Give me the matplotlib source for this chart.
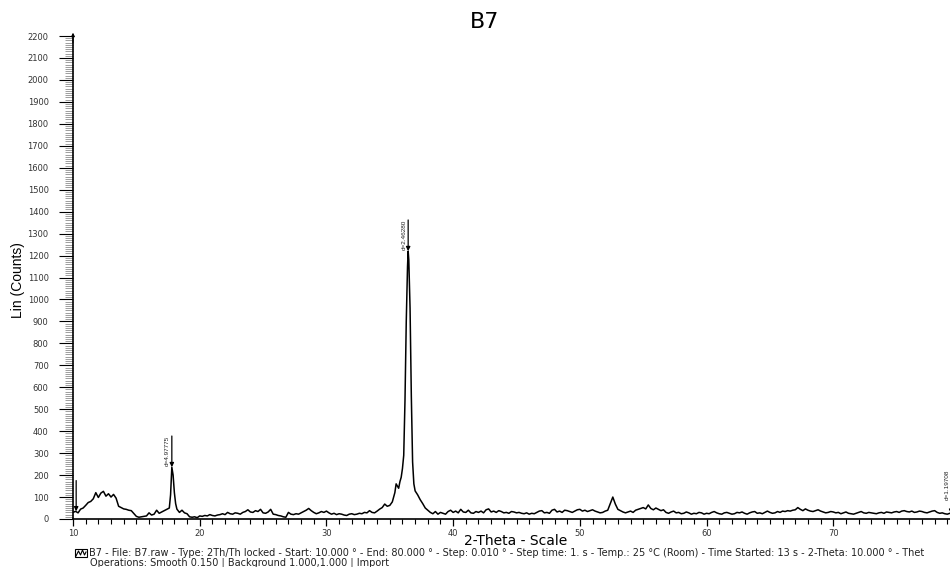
import matplotlib
matplotlib.use("Agg")
from matplotlib import pyplot as plt
from matplotlib.ticker import MultipleLocator, FuncFormatter
from matplotlib.patches import Rectangle

# scan B7, 2-theta in degrees and intensity in counts
two_theta = [
    10.0, 10.2, 10.4, 10.6, 10.8, 11.0, 11.2, 11.4, 11.6, 11.8, 12.0, 12.2, 12.4, 12.6, 12.8,
    13.0, 13.2, 13.4, 13.6, 13.8, 14.0, 14.2, 14.4, 14.6, 14.8, 15.0, 15.2, 15.4, 15.6, 15.8,
    16.0, 16.2, 16.4, 16.6, 16.8, 17.0, 17.2, 17.4, 17.6, 17.7, 17.8, 17.9, 18.0, 18.1, 18.2,
    18.4, 18.6, 18.8, 19.0, 19.2, 19.4, 19.6, 19.8, 20.0, 20.2, 20.4, 20.6, 20.8, 21.0, 21.2,
    21.4, 21.6, 21.8, 22.0, 22.2, 22.4, 22.6, 22.8, 23.0, 23.2, 23.4, 23.6, 23.8, 24.0, 24.2,
    24.4, 24.6, 24.8, 25.0, 25.2, 25.4, 25.6, 25.8, 26.0, 26.2, 26.4, 26.6, 26.8, 27.0, 27.2,
    27.4, 27.6, 27.8, 28.0, 28.2, 28.4, 28.6, 28.8, 29.0, 29.2, 29.4, 29.6, 29.8, 30.0, 30.2,
    30.4, 30.6, 30.8, 31.0, 31.2, 31.4, 31.6, 31.8, 32.0, 32.2, 32.4, 32.6, 32.8, 33.0, 33.2,
    33.4, 33.6, 33.8, 34.0, 34.2, 34.4, 34.6, 34.8, 35.0, 35.2, 35.4, 35.5, 35.6, 35.7, 35.8,
    35.9, 36.0, 36.1, 36.2, 36.3, 36.4, 36.45, 36.5, 36.6, 36.7, 36.8, 36.9, 37.0, 37.2, 37.4,
    37.6, 37.8, 38.0, 38.2, 38.4, 38.6, 38.8, 39.0, 39.2, 39.4, 39.6, 39.8, 40.0, 40.2, 40.4,
    40.6, 40.8, 41.0, 41.2, 41.4, 41.6, 41.8, 42.0, 42.2, 42.4, 42.6, 42.8, 43.0, 43.2, 43.4,
    43.6, 43.8, 44.0, 44.2, 44.4, 44.6, 44.8, 45.0, 45.2, 45.4, 45.6, 45.8, 46.0, 46.2, 46.4,
    46.6, 46.8, 47.0, 47.2, 47.4, 47.6, 47.8, 48.0, 48.2, 48.4, 48.6, 48.8, 49.0, 49.2, 49.4,
    49.6, 49.8, 50.0, 50.2, 50.4, 50.6, 50.8, 51.0, 51.2, 51.4, 51.6, 51.8, 52.0, 52.2, 52.4,
    52.6, 52.8, 53.0, 53.2, 53.4, 53.6, 53.8, 54.0, 54.2, 54.4, 54.6, 54.8, 55.0, 55.2, 55.4,
    55.6, 55.8, 56.0, 56.2, 56.4, 56.6, 56.8, 57.0, 57.2, 57.4, 57.6, 57.8, 58.0, 58.2, 58.4,
    58.6, 58.8, 59.0, 59.2, 59.4, 59.6, 59.8, 60.0, 60.2, 60.4, 60.6, 60.8, 61.0, 61.2, 61.4,
    61.6, 61.8, 62.0, 62.2, 62.4, 62.6, 62.8, 63.0, 63.2, 63.4, 63.6, 63.8, 64.0, 64.2, 64.4,
    64.6, 64.8, 65.0, 65.2, 65.4, 65.6, 65.8, 66.0, 66.2, 66.4, 66.6, 66.8, 67.0, 67.2, 67.4,
    67.6, 67.8, 68.0, 68.2, 68.4, 68.6, 68.8, 69.0, 69.2, 69.4, 69.6, 69.8, 70.0, 70.2, 70.4,
    70.6, 70.8, 71.0, 71.2, 71.4, 71.6, 71.8, 72.0, 72.2, 72.4, 72.6, 72.8, 73.0, 73.2, 73.4,
    73.6, 73.8, 74.0, 74.2, 74.4, 74.6, 74.8, 75.0, 75.2, 75.4, 75.6, 75.8, 76.0, 76.2, 76.4,
    76.6, 76.8, 77.0, 77.2, 77.4, 77.6, 77.8, 78.0, 78.2, 78.4, 78.6, 78.8, 79.0, 79.2, 79.4,
    79.6, 79.8, 80.0,
]
counts = [
    30, 35, 28, 45, 50, 62, 75, 80, 92, 120, 98, 118, 126, 104, 115,
    100, 112, 95, 58, 52, 46, 44, 40, 38, 25, 12, 8, 10, 12, 14,
    28, 18, 22, 40, 26, 32, 38, 44, 50, 110, 236, 200, 120, 70, 45,
    30, 40, 28, 24, 10, 8, 10, 6, 14, 12, 16, 14, 20, 16, 14,
    18, 20, 24, 20, 30, 24, 22, 28, 26, 22, 30, 34, 42, 32, 30,
    38, 34, 44, 28, 26, 32, 44, 22, 20, 16, 14, 10, 8, 30, 22,
    20, 24, 22, 28, 34, 40, 48, 38, 30, 24, 28, 34, 30, 36, 28,
    22, 26, 20, 24, 22, 18, 16, 22, 24, 20, 22, 26, 24, 30, 28,
    38, 30, 28, 36, 45, 52, 68, 58, 62, 78, 120, 160, 150, 140, 170,
    190, 230, 290, 540, 900, 1150, 1220, 1180, 960, 560, 260, 160, 128, 110, 88,
    70, 50, 40, 30, 24, 34, 22, 30, 26, 22, 34, 40, 30, 36, 28,
    44, 32, 30, 40, 28, 26, 34, 30, 36, 28, 42, 46, 32, 36, 30,
    38, 34, 28, 30, 26, 34, 32, 28, 30, 26, 24, 28, 22, 26, 24,
    30, 36, 38, 28, 30, 26, 40, 44, 32, 36, 30, 40, 38, 34, 30,
    36, 42, 44, 36, 40, 34, 38, 42, 36, 32, 28, 30, 36, 40, 70,
    100, 68, 44, 38, 32, 28, 32, 36, 30, 40, 44, 48, 52, 46, 64,
    48, 42, 50, 44, 38, 42, 30, 26, 32, 36, 28, 30, 24, 26, 32,
    28, 22, 26, 24, 30, 28, 22, 26, 24, 30, 34, 28, 24, 22, 28,
    30, 26, 22, 24, 30, 28, 32, 26, 22, 28, 32, 34, 26, 28, 24,
    30, 36, 30, 26, 28, 34, 30, 36, 34, 38, 36, 40, 42, 52, 44,
    38, 46, 40, 36, 34, 38, 42, 36, 32, 28, 30, 34, 32, 28, 30,
    24, 28, 32, 26, 24, 22, 26, 30, 34, 28, 26, 30, 28, 26, 24,
    28, 30, 26, 32, 30, 28, 32, 34, 30, 36, 38, 34, 32, 36, 30,
    32, 36, 34, 30, 28, 32, 36, 38, 30, 26, 28, 24, 22, 26, 24,
    22, 24, 22,
]

# d-spacing markers (position, peak height, top of stick, label)
marker_two_theta = [10.25, 17.80, 36.45, 79.3]
marker_peak = [35, 236, 1220, 24]
marker_top = [175, 378, 1362, 223]
marker_labels = ["", "d=4.97775", "d=2.46280", "d=1.19708"]

scan_info = ("B7 - File: B7.raw - Type: 2Th/Th locked - Start: 10.000 \u00b0 - End: 80.000 \u00b0 - "
             "Step: 0.010 \u00b0 - Step time: 1. s - Temp.: 25 \u00b0C (Room) - Time Started: 13 s - "
             "2-Theta: 10.000 \u00b0 - Thet")
operations = "Operations: Smooth 0.150 | Background 1.000,1.000 | Import"

W, H = 950, 567
fig = plt.figure(figsize=(W / 100, H / 100), dpi=100)
# axis runs to 80 deg, a little past the right edge of the figure
ax = fig.add_axes([73 / W, 48 / H, 887 / W, 483 / H])

ax.plot(two_theta, counts, color="black", lw=1.1)

for x, peak, top, lab in zip(marker_two_theta, marker_peak, marker_top, marker_labels):
    ax.annotate("", xy=(x, peak), xytext=(x, top), annotation_clip=False,
                arrowprops=dict(arrowstyle="-|>", color="black", lw=0.9,
                                mutation_scale=6, shrinkA=0, shrinkB=0))
    if lab:
        ax.annotate(lab, xy=(x, top), xytext=(-1.2, 0), textcoords="offset points",
                    rotation=90, ha="right", va="top", fontsize=4.6,
                    family="Liberation Sans", color="#222222")

ax.set_xlim(10, 80)
ax.set_ylim(0, 2200)
for side in ("top", "right"):
    ax.spines[side].set_visible(False)
ax.spines["left"].set_linewidth(1.2)
ax.spines["bottom"].set_linewidth(1.2)

# little arrow head on top of the y axis
ax.annotate("", xy=(10, 2215), xytext=(10, 2170), annotation_clip=False,
            arrowprops=dict(arrowstyle="-|>", color="black", lw=0.8,
                            mutation_scale=5, shrinkA=0, shrinkB=0))

ax.yaxis.set_major_locator(MultipleLocator(100))
ax.yaxis.set_minor_locator(MultipleLocator(10))
ax.xaxis.set_major_locator(MultipleLocator(10))
ax.xaxis.set_minor_locator(MultipleLocator(1))
# the 80 label would sit past the figure edge
ax.xaxis.set_major_formatter(FuncFormatter(lambda v, pos: "" if v > 75 else f"{v:.0f}"))
ax.tick_params(axis="y", which="major", direction="out", length=10, width=0.8,
               pad=7.5, labelsize=6, labelcolor="#333333")
ax.tick_params(axis="y", which="minor", direction="out", length=6, width=0.5, color="#777777")
ax.tick_params(axis="x", which="major", direction="out", length=5, width=0.9,
               pad=2.5, labelsize=6, labelcolor="#333333")
ax.tick_params(axis="x", which="minor", direction="out", length=3.5, width=0.8)

fig.text(485 / W, 1 - 22 / H, "B7", ha="center", va="center", fontsize=16,
         family="DejaVu Sans")
fig.text(18 / W, 1 - 280 / H, "Lin (Counts)", rotation=90, ha="center", va="center",
         fontsize=10, family="Liberation Sans")
fig.text(516 / W, 1 - 541 / H, "2-Theta - Scale", ha="center", va="center",
         fontsize=10, family="DejaVu Sans")

# scan legend swatch and header lines
fig.patches.append(Rectangle((75 / W, 1 - 557 / H), 12 / W, 8 / H, transform=fig.transFigure,
                             fill=False, edgecolor="black", lw=0.8))
fig.lines.append(plt.Line2D([76 / W, 78.5 / W, 80.5 / W, 82.5 / W, 84.5 / W, 86 / W],
                            [1 - 556 / H, 1 - 551 / H, 1 - 555 / H, 1 - 550 / H, 1 - 555 / H, 1 - 552 / H],
                            transform=fig.transFigure, color="black", lw=0.8))
fig.text(89 / W, 1 - 553.5 / H, scan_info, ha="left", va="center", fontsize=7,
         family="DejaVu Sans", color="#222222")
fig.text(90 / W, 1 - 562.5 / H, operations, ha="left", va="center", fontsize=7,
         family="DejaVu Sans", color="#222222")

fig.savefig("out.png", dpi=100)
